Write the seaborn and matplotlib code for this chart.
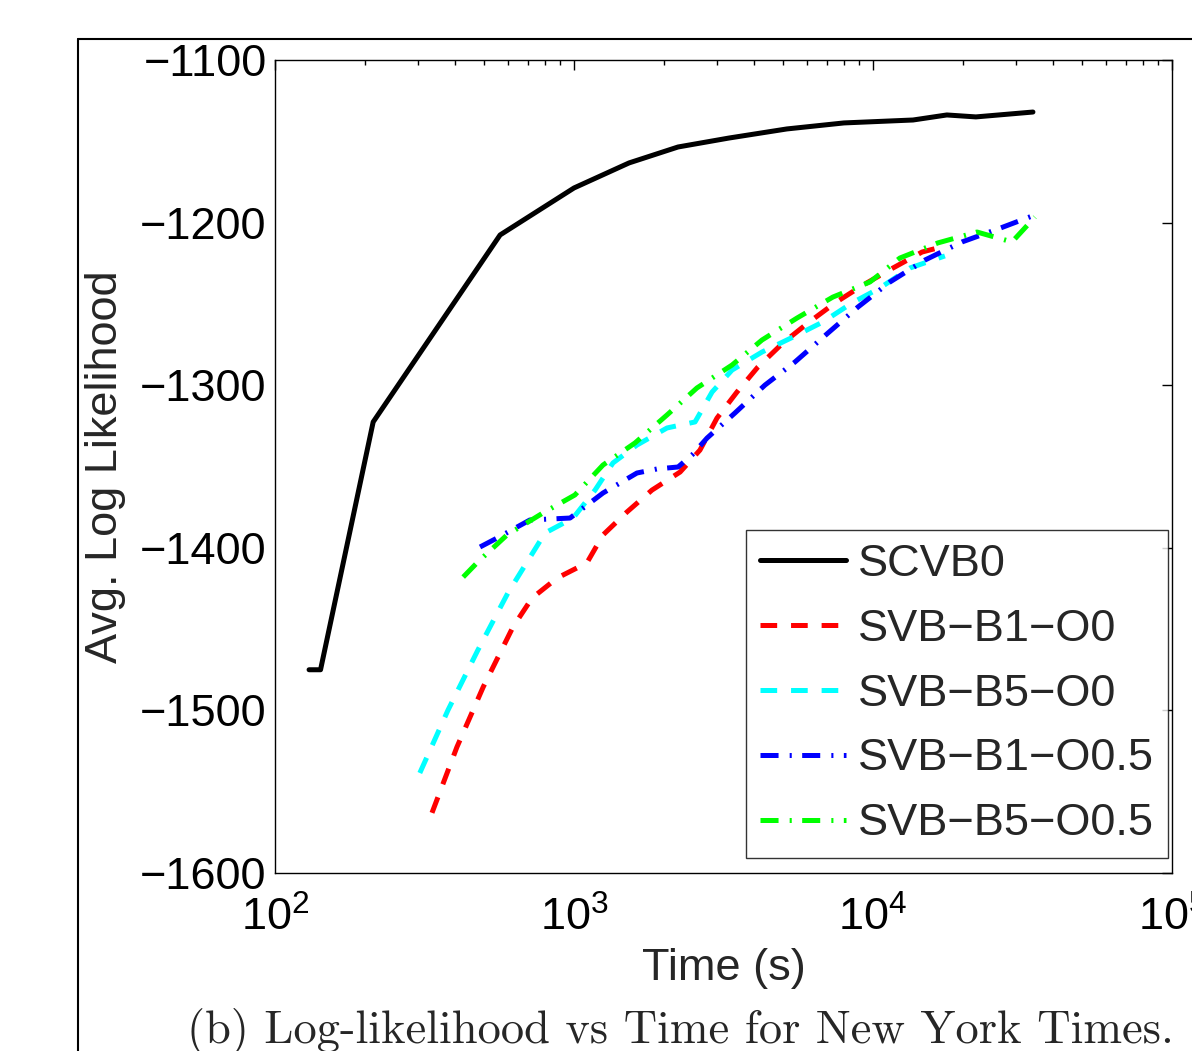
import numpy as np
import pandas as pd
import matplotlib
matplotlib.use("Agg")
import matplotlib.pyplot as plt
import matplotlib.ticker as mticker
from matplotlib.lines import Line2D
import seaborn as sns

# --- data ---
names = ["SCVB0", "SVB\u2212B1\u2212O0", "SVB\u2212B5\u2212O0",
         "SVB\u2212B1\u2212O0.5", "SVB\u2212B5\u2212O0.5"]

scvb0_t = [130, 142, 213, 566, 1000, 1528, 2228, 3296, 5152, 7996,
           13610, 17660, 22080, 34270]
scvb0_ll = [-1475, -1475, -1322.6, -1207.6, -1178.7, -1163.3, -1153.5,
            -1148, -1142.4, -1138.7, -1136.9, -1133.8, -1135, -1132]

b1o0_t = [335, 406, 497, 625, 724, 878, 1104, 1250, 1503, 1823, 2264, 2638,
          3008, 3508, 4122, 5000, 6064, 7464, 9266, 11670, 14590, 17420]
b1o0_ll = [-1563, -1522.5, -1485.6, -1448.7, -1430.9, -1418.6, -1409.3,
           -1392.1, -1378, -1364.5, -1353.4, -1339.9, -1320.2, -1304.2,
           -1288.8, -1274, -1261.7, -1249.4, -1238.4, -1227.9, -1218.1, -1214.4]

b5o0_t = [305, 379, 477, 601, 800, 993, 1176, 1350, 1624, 2047, 2540, 2896,
          3377, 4254, 5400, 6800, 8510, 10550, 13300, 17400]
b5o0_ll = [-1538.5, -1499.8, -1462.9, -1427.8, -1390.9, -1381.7, -1364.5,
           -1347.8, -1336.8, -1326.3, -1322.6, -1304.2, -1290.7, -1279.6,
           -1270.4, -1261.1, -1249.4, -1240.2, -1227.9, -1220.5]

b1o05_t = [485, 553, 712, 970, 1250, 1624, 1897, 2229, 2482, 2786, 3453,
           4353, 5485, 7070, 8910, 11400, 14930, 19850, 26200, 34800]
b1o05_ll = [-1399.5, -1394, -1382.9, -1381.7, -1366.3, -1354, -1351.5,
            -1350.3, -1342.9, -1332.5, -1317.1, -1299.9, -1285.7, -1267.9,
            -1251.9, -1236.5, -1223, -1211.9, -1203.9, -1195.3]

b5o05_t = [426, 477, 597, 787, 1007, 1250, 1600, 2047, 2577, 3377, 4254,
           5570, 7340, 9770, 12300, 16480, 22280, 29170, 34800]
b5o05_ll = [-1418, -1408.7, -1392.1, -1378.6, -1367.5, -1349.1, -1335.5,
            -1318.3, -1301.7, -1287.6, -1272.2, -1258.7, -1245.8, -1236.5,
            -1221.8, -1212.5, -1205.8, -1211.9, -1196.6]

all_t = [scvb0_t, b1o0_t, b5o0_t, b1o05_t, b5o05_t]
all_ll = [scvb0_ll, b1o0_ll, b5o0_ll, b1o05_ll, b5o05_ll]

df = pd.concat([pd.DataFrame({"time": t, "ll": ll, "method": n})
                for n, t, ll in zip(names, all_t, all_ll)], ignore_index=True)

colors = dict(zip(names, ["#000000", "#ff0000", "#00ffff", "#0000ff", "#00ff00"]))
dash_styles = dict(zip(names, ["", (12, 10), (12, 10), (13, 8, 1.5, 7.5), (13, 8, 1.5, 7.5)]))

sns.set_theme(style="white")
plt.rcParams["font.family"] = ["Liberation Sans", "DejaVu Sans"]
plt.rcParams["mathtext.default"] = "regular"
plt.rcParams["lines.scale_dashes"] = False
plt.rcParams["axes.unicode_minus"] = True

fs = 32.5

fig = plt.figure(figsize=(11.92, 10.51), dpi=100)
ax = fig.add_axes([275 / 1192, 1 - 873 / 1051, 897 / 1192, 813 / 1051])

sns.lineplot(data=df, x="time", y="ll", hue="method", style="method",
             hue_order=names, style_order=names, palette=colors,
             dashes=dash_styles, linewidth=3.6, estimator=None, sort=False,
             legend=False, ax=ax)

ax.set_xscale("log")
ax.set_xlim(1e2, 1e5)
ax.set_ylim(-1600, -1100)
ax.set_yticks(np.arange(-1600, -1099, 100))
ax.xaxis.set_major_formatter(mticker.FuncFormatter(
    lambda v, p: r"$\mathregular{10^{%d}}$" % round(np.log10(v))))
ax.xaxis.set_minor_locator(mticker.LogLocator(base=10, subs=np.arange(2, 10)))
ax.xaxis.set_minor_formatter(mticker.NullFormatter())

ax.tick_params(which="both", direction="in", top=True, right=True,
               colors="black", width=1.0, labelsize=fs)
ax.tick_params(which="major", length=7)
ax.tick_params(which="minor", length=3.5)
ax.tick_params(axis="y", pad=6)
ax.tick_params(axis="x", pad=17)
for sp in ax.spines.values():
    sp.set_color("black")
    sp.set_linewidth(1.0)

ax.set_xlabel("Time (s)", fontsize=fs, labelpad=6)
ax.set_ylabel("Avg. Log Likelihood", fontsize=fs, labelpad=10)

handles = [Line2D([], [], color=l.get_color(), linewidth=3.6,
                  linestyle=l.get_linestyle()) for l in ax.get_lines()[:5]]
for h, n in zip(handles, names):
    if dash_styles[n]:
        h.set_dashes(dash_styles[n])
leg = ax.legend(handles, names, loc="lower right", bbox_to_anchor=(0.9955, 0.0185),
                borderaxespad=0, fontsize=fs, handlelength=1.9, handletextpad=0.28,
                labelspacing=0.53, borderpad=0.3, frameon=True, fancybox=False)
leg.get_frame().set_edgecolor("black")
leg.get_frame().set_linewidth(1.0)

# page frame and caption around the figure
fig.add_artist(Line2D([78 / 1192, 78 / 1192], [0, 1 - 39 / 1051],
                      transform=fig.transFigure, color="black", linewidth=1.5))
fig.add_artist(Line2D([78 / 1192, 1], [1 - 39 / 1051, 1 - 39 / 1051],
                      transform=fig.transFigure, color="black", linewidth=1.5))
fig.text(680 / 1192, 1 - 1043 / 1051, "(b) Log-likelihood vs Time for New York Times.",
         family="cmr10", fontsize=33.5, ha="center", va="baseline")

fig.savefig("out.png", dpi=100)
